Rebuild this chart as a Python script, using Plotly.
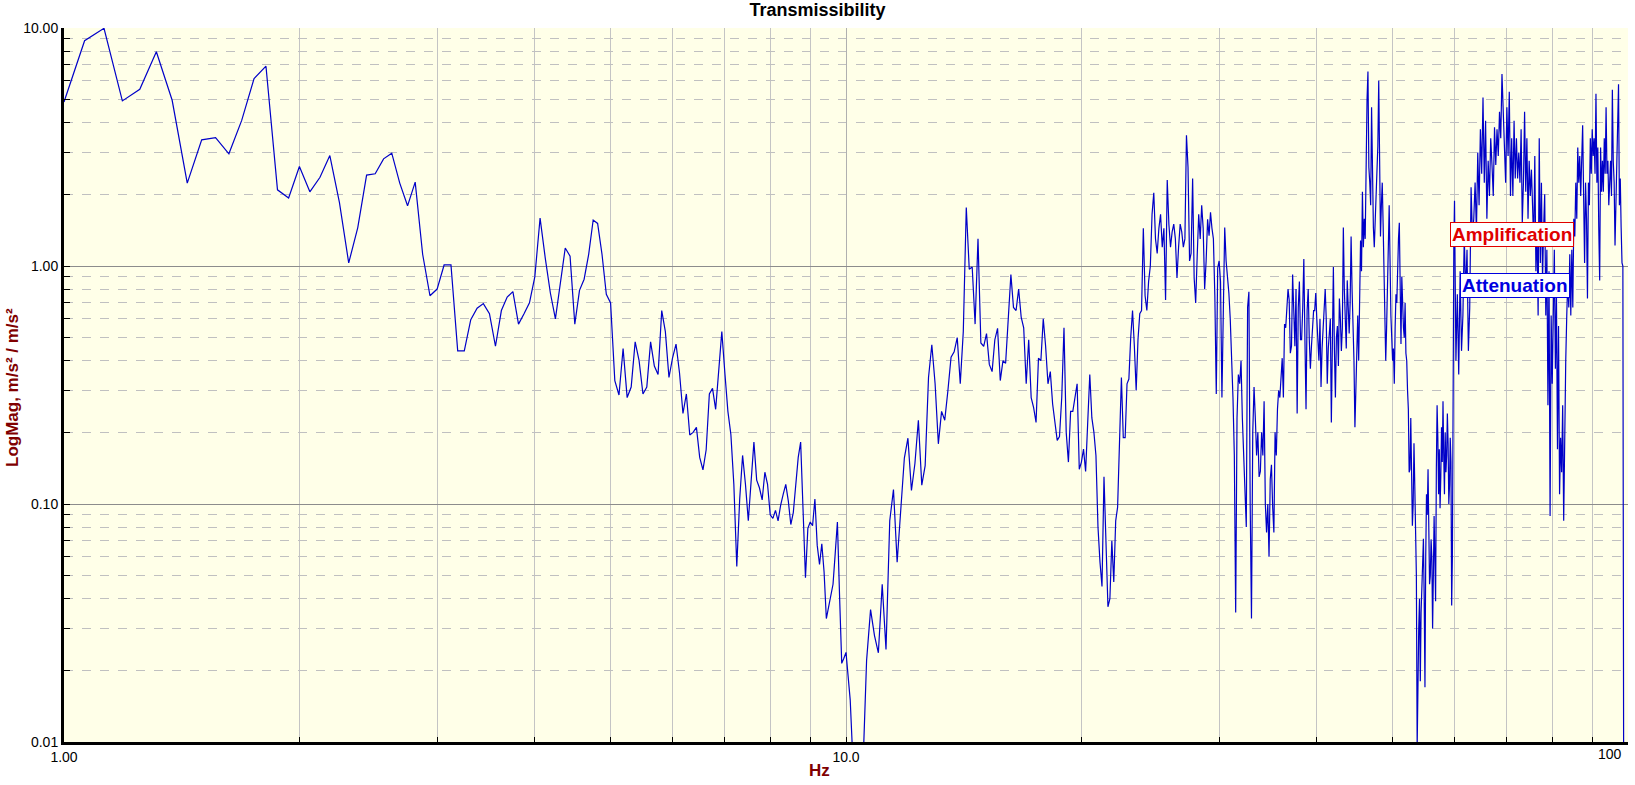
import math

import numpy as np
import plotly.graph_objects as go

# frequency grid of each read-off segment: start (Hz) and bin step (Hz)
start_a, step_a = 1.0, 0.0625
start_b, step_b = 10.125, 0.125
start_c, step_c = 20.125, 0.125
start_d, step_d = 40.125, 0.125
start_e, step_e = 60.25, 0.25

# 1 - 10 Hz
mag_a = [
    4.89, 8.84, 9.97, 4.94, 5.53, 7.95, 4.97, 2.23, 3.39, 3.46, 2.96, 4.09,
    6.13, 6.91, 2.09, 1.93, 2.62, 2.05, 2.36, 2.91, 1.85, 1.03, 1.45, 2.41,
    2.44, 2.82, 2.98, 2.23, 1.79, 2.25, 1.12, 0.75, 0.80, 1.01, 1.01, 0.44,
    0.44, 0.595, 0.665, 0.695, 0.63, 0.46, 0.65, 0.74, 0.78, 0.57, 0.63, 0.70,
    0.90, 1.59, 1.08, 0.77, 0.60, 0.86, 1.19, 1.10, 0.57, 0.79, 0.88, 1.12,
    1.56, 1.51, 1.12, 0.76, 0.70, 0.33, 0.287, 0.45, 0.28, 0.31, 0.48, 0.40,
    0.29, 0.31, 0.48, 0.38, 0.35, 0.65, 0.53, 0.34, 0.41, 0.47, 0.355, 0.24,
    0.29, 0.195, 0.20, 0.21, 0.157, 0.139, 0.169, 0.29, 0.306, 0.25, 0.37, 0.53,
    0.355, 0.245, 0.196, 0.121, 0.0547, 0.105, 0.16, 0.121, 0.085, 0.121, 0.182, 0.126,
    0.117, 0.104, 0.136, 0.121, 0.090, 0.087, 0.094, 0.085, 0.099, 0.110, 0.121, 0.103,
    0.082, 0.092, 0.121, 0.157, 0.182, 0.10, 0.049, 0.079, 0.084, 0.081, 0.105, 0.067,
    0.0557, 0.068, 0.0518, 0.033, 0.037, 0.041, 0.046, 0.062, 0.084, 0.041, 0.0214, 0.0225,
    0.0238,
]

# 10 - 20 Hz
mag_b = [
    0.015, 0.006, 0.005, 0.007, 0.022, 0.036, 0.028, 0.0237,
    0.046, 0.0245, 0.085, 0.115, 0.057, 0.092, 0.156, 0.189,
    0.114, 0.148, 0.225, 0.12, 0.145, 0.34, 0.467, 0.32,
    0.179, 0.245, 0.225, 0.30, 0.414, 0.436, 0.50, 0.32,
    0.53, 1.76, 0.97, 0.99, 0.57, 1.30, 0.475, 0.46,
    0.52, 0.386, 0.36, 0.49, 0.547, 0.33, 0.40, 0.39,
    0.61, 0.92, 0.67, 0.65, 0.80, 0.61, 0.55, 0.32,
    0.49, 0.28, 0.254, 0.22, 0.41, 0.40, 0.60, 0.46,
    0.32, 0.36, 0.263, 0.213, 0.185, 0.192, 0.28, 0.55,
    0.20, 0.15, 0.245, 0.245, 0.28, 0.32, 0.14, 0.15,
]

# 20 - 40 Hz
mag_c = [
    0.17, 0.137, 0.22, 0.35, 0.23, 0.2, 0.16, 0.08,
    0.057, 0.045, 0.13, 0.06, 0.037, 0.04, 0.07, 0.047,
    0.085, 0.097, 0.2, 0.34, 0.19, 0.19, 0.32, 0.335,
    0.5, 0.65, 0.46, 0.30, 0.49, 0.63, 0.65, 1.44,
    0.75, 0.65, 0.86, 1.0, 1.65, 2.03, 1.3, 1.13,
    1.44, 1.65, 1.2, 1.44, 0.72, 2.3, 1.5, 1.2,
    1.39, 1.5, 1.3, 0.89, 1.2, 1.5, 1.39, 1.2,
    1.3, 3.54, 2.6, 1.05, 1.13, 2.33, 0.89, 0.7,
    1.1, 1.65, 1.3, 1.8, 1.44, 0.8, 1.05, 1.57,
    1.34, 1.68, 1.44, 1.3, 0.75, 0.29, 0.98, 1.05,
    0.86, 0.28, 0.65, 1.45, 1.05, 0.92, 0.77, 0.6,
    0.43, 0.28, 0.16, 0.035, 0.23, 0.35, 0.32, 0.4,
    0.23, 0.17, 0.115, 0.08, 0.67, 0.78, 0.1, 0.033,
    0.2, 0.31, 0.23, 0.16, 0.2, 0.13, 0.137, 0.2,
    0.16, 0.27, 0.1, 0.076, 0.1, 0.06, 0.127, 0.146,
    0.097, 0.076, 0.2, 0.16, 0.25, 0.3, 0.28, 0.36,
    0.41, 0.28, 0.57, 0.55, 0.65, 0.8, 0.72, 0.43,
    0.46, 0.92, 0.65, 0.46, 0.8, 0.24, 0.67, 0.86,
    0.49, 0.49, 0.67, 1.07, 0.49, 0.25, 0.65, 0.8,
    0.49, 0.37, 0.46, 0.55, 0.65, 0.65, 0.77, 0.6,
]

# 40 - 60 Hz
mag_d = [
    0.5, 0.40, 0.6, 0.31, 0.45, 0.56, 0.62, 0.80,
    0.6, 0.32, 0.45, 0.52, 0.6, 0.22, 0.5, 0.99,
    0.45, 0.28, 0.5, 0.56, 0.38, 0.73, 0.6, 0.44,
    0.55, 1.45, 0.8, 0.62, 0.45, 0.87, 0.65, 0.52,
    0.7, 1.33, 0.8, 0.56, 0.4, 0.21, 0.34, 0.52,
    0.62, 0.40, 0.75, 1.28, 0.95, 2.05, 1.2, 1.58,
    1.3, 3.44, 5.0, 6.56, 2.6, 2.24, 1.8, 4.65,
    2.4, 1.45, 1.2, 1.58, 2.2, 3.0, 3.2, 6.0,
    2.0, 1.33, 1.8, 2.24, 1.5, 0.83, 0.6, 0.40,
    0.55, 1.08, 1.2, 1.80, 0.9, 0.62, 0.5, 0.40,
    0.45, 0.32, 0.55, 0.76, 0.7, 1.12, 1.3, 1.52,
    0.75, 0.47, 0.9, 0.62, 0.55, 0.50, 0.7, 0.43,
    0.4, 0.30, 0.25, 0.136, 0.14, 0.23, 0.13, 0.081,
    0.1, 0.18, 0.12, 0.055, 0.05, 0.0095, 0.02, 0.03,
    0.04, 0.018, 0.035, 0.0465, 0.06, 0.0715, 0.04, 0.017,
    0.06, 0.11, 0.09, 0.14, 0.08, 0.046, 0.05, 0.071,
    0.06, 0.03, 0.05, 0.089, 0.06, 0.039, 0.14, 0.26,
    0.19, 0.11, 0.17, 0.096, 0.13, 0.21, 0.15, 0.27,
    0.16, 0.11, 0.2, 0.136, 0.16, 0.24, 0.18, 0.10,
    0.12, 0.19, 0.15, 0.0375, 0.06, 0.50, 1.2, 1.88,
]

# 60 - 98.75 Hz
mag_e = [
    0.40, 0.76, 0.35, 0.95, 0.44, 0.62, 1.33, 0.76,
    1.17, 0.44, 0.67, 2.14, 1.33, 1.58, 2.24, 1.39,
    3.0, 1.8, 3.75, 2.44, 5.1, 2.24, 4.08, 1.58,
    2.77, 1.97, 3.44, 2.66, 1.97, 3.83, 2.66, 3.75,
    2.9, 4.45, 3.44, 6.4, 4.27, 3.0, 2.24, 4.65,
    2.9, 5.4, 1.97, 3.44, 1.97, 4.08, 2.33, 3.44,
    2.33, 3.0, 2.24, 3.75, 1.52, 2.24, 4.45, 2.05,
    3.44, 1.58, 2.77, 1.97, 2.54, 1.80, 1.22, 2.9,
    0.95, 1.45, 0.62, 3.44, 1.03, 2.24, 0.87, 1.45,
    2.0, 0.62, 1.17, 0.26, 0.95, 0.089, 0.62, 0.32,
    0.62, 1.17, 0.37, 0.76, 0.17, 0.56, 0.11, 0.19,
    0.136, 0.26, 0.085, 0.26, 0.40, 0.62, 0.87, 0.67,
    1.12, 0.62, 1.17, 0.67, 1.58, 1.33, 2.24, 1.58,
    3.15, 2.24, 2.9, 1.97, 3.44, 3.9, 1.97, 1.03,
    2.24, 1.58, 0.73, 2.24, 1.80, 3.44, 2.44, 3.75,
    2.9, 3.44, 2.44, 5.29, 2.24, 3.15, 1.45, 0.87,
    3.15, 2.05, 2.77, 2.05, 3.44, 2.44, 4.65, 2.44,
    2.77, 1.80, 2.24, 2.77, 1.97, 5.5, 2.77, 2.24,
    1.22, 1.97, 2.24, 3.44, 5.8, 1.80, 2.33, 1.45,
    1.03, 1.0, 0.005,
]

y_ticks = [0.01, 0.1, 1, 10]
y_tick_text = ["0.01", "0.10", "1.00", "10.00"]
x_ticks = [1, 10]
x_tick_text = ["1.00", "10.0"]

FONT = "Liberation Sans, Arial, sans-serif"
DARK_RED = "#800000"


def segment(start, step, values):
    return start + step * np.arange(len(values))


freq = np.concatenate([
    segment(start_a, step_a, mag_a),
    segment(start_b, step_b, mag_b),
    segment(start_c, step_c, mag_c),
    segment(start_d, step_d, mag_d),
    segment(start_e, step_e, mag_e),
])
mag = np.concatenate([mag_a, mag_b, mag_c, mag_d, mag_e])

minor_y = [m * d for d in (0.01, 0.1, 1) for m in range(2, 10)]
minor_x = [m * d for d in (1, 10) for m in range(2, 10)]

fig = go.Figure()

fig.add_trace(
    go.Scatter(
        x=freq,
        y=mag,
        mode="lines",
        line=dict(color="#0000C8", width=1.2),
        showlegend=False,
        hoverinfo="x+y",
    )
)

fig.update_layout(
    width=1635,
    height=785,
    margin=dict(l=64, r=7, t=28, b=43),
    paper_bgcolor="white",
    plot_bgcolor="#FFFFE8",
    font=dict(family=FONT, size=14, color="black"),
    title=dict(
        text="<b>Transmissibility</b>",
        x=0.5,
        xref="container",
        xanchor="center",
        y=1 - 10 / 785,
        yref="container",
        yanchor="middle",
        font=dict(family=FONT, size=18, color="black"),
    ),
)

fig.update_xaxes(
    type="log",
    range=[0, 2],
    tickvals=x_ticks,
    ticktext=x_tick_text,
    ticks="inside",
    ticklen=5,
    tickcolor="black",
    showline=True,
    linewidth=3,
    linecolor="black",
    showgrid=True,
    gridcolor="#b0b0b0",
    gridwidth=1,
    zeroline=False,
    minor=dict(
        tickvals=minor_x,
        ticks="inside",
        ticklen=5,
        tickcolor="black",
        showgrid=True,
        gridcolor="#c4c4c4",
        gridwidth=1,
    ),
)

fig.update_yaxes(
    type="log",
    range=[-2, 1],
    tickvals=y_ticks,
    ticktext=y_tick_text,
    ticks="inside",
    ticklen=6,
    tickcolor="black",
    showline=True,
    linewidth=3,
    linecolor="black",
    showgrid=True,
    gridcolor="#8c8c8c",
    gridwidth=1,
    zeroline=False,
    minor=dict(
        tickvals=minor_y,
        ticks="inside",
        ticklen=6,
        tickcolor="black",
        showgrid=True,
        gridcolor="#c0c0c0",
        griddash="dash",
        gridwidth=1,
    ),
)

# axis titles and the last x label, placed like the original
fig.add_annotation(
    text="<b>Hz</b>",
    xref="paper", yref="paper",
    x=(819 - 64) / 1564, y=-28 / 714,
    xanchor="center", yanchor="middle",
    showarrow=False,
    font=dict(family=FONT, size=17, color=DARK_RED),
)
fig.add_annotation(
    text="<b>LogMag, m/s² / m/s²</b>",
    xref="paper", yref="paper",
    x=-52 / 1564, y=(742 - 388) / 714,
    xanchor="center", yanchor="middle",
    textangle=-90,
    showarrow=False,
    font=dict(family=FONT, size=17, color=DARK_RED),
)
fig.add_annotation(
    text="100",
    xref="x", yref="paper",
    x=2, y=-12 / 714,
    xanchor="right", yanchor="middle",
    xshift=-4,
    showarrow=False,
    font=dict(family=FONT, size=14, color="black"),
)

# region labels
fig.add_annotation(
    text="<b>Amplification</b>",
    x=math.log10(71.1), y=math.log10(1.36),
    xanchor="center", yanchor="middle",
    showarrow=False,
    bgcolor="white",
    bordercolor="#E00000",
    borderwidth=1,
    borderpad=1,
    font=dict(family=FONT, size=19, color="#E00000"),
)
fig.add_annotation(
    text="<b>Attenuation</b>",
    x=math.log10(71.7), y=math.log10(0.83),
    xanchor="center", yanchor="middle",
    showarrow=False,
    bgcolor="white",
    bordercolor="#0000E0",
    borderwidth=1,
    borderpad=1,
    font=dict(family=FONT, size=19, color="#0000E0"),
)

# the page's default body margin would shift the fixed-size figure
fig.write_html(
    "out.html",
    config={"displayModeBar": False},
    post_script="document.body.style.margin = '0';",
)
